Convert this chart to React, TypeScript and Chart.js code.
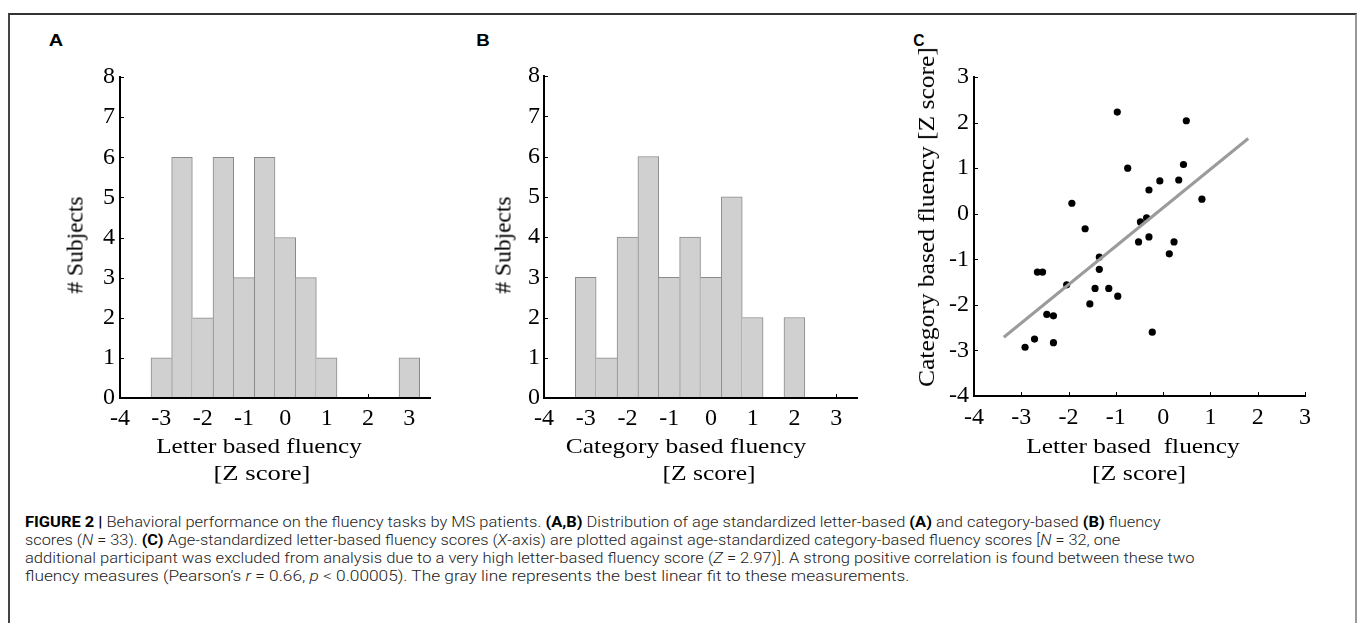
import React, { useEffect, useLayoutEffect, useRef } from "react";
import { Chart, registerables } from "chart.js";

Chart.register(...registerables);

// ---------------- data ----------------
const letterBinCenters = [-3, -2.5, -2, -1.5, -1, -0.5, 0, 0.5, 1, 1.5, 2, 2.5, 3];
const letterCounts = [1, 6, 2, 6, 3, 6, 4, 3, 1, 0, 0, 0, 1];
const categoryBinCenters = [-3, -2.5, -2, -1.5, -1, -0.5, 0, 0.5, 1, 1.5, 2];
const categoryCounts = [3, 1, 4, 6, 3, 4, 3, 5, 2, 0, 2];
const histXTicks = [-4, -3, -2, -1, 0, 1, 2, 3];
const histYTicks = [0, 1, 2, 3, 4, 5, 6, 7, 8];
const scatterXTicks = [-4, -3, -2, -1, 0, 1, 2, 3];
const scatterYTicks = [-4, -3, -2, -1, 0, 1, 2, 3];
const letterZ = [
  -0.97, 0.49, -0.75, 0.43, 0.33, -0.07, -0.3, 0.82, -1.93, -1.65, -0.48, -0.35, -0.52, -0.3, 0.23, 0.13,
  -1.35, -1.35, -2.66, -2.55, -2.04, -1.44, -1.15, -0.96, -1.55, -2.46, -2.32, -0.23, -2.72, -2.32, -2.92,
];
const categoryZ = [
  2.23, 2.04, 1.0, 1.08, 0.74, 0.72, 0.52, 0.32, 0.23, -0.33, -0.18, -0.09, -0.62, -0.51, -0.62, -0.88,
  -0.95, -1.22, -1.28, -1.28, -1.56, -1.64, -1.64, -1.81, -1.98, -2.21, -2.24, -2.6, -2.75, -2.83, -2.93,
];
const fitX = [-3.37, 1.8];
const fitY = [-2.71, 1.65];

// ---------------- styles ----------------
const SERIF = "'Liberation Serif', 'Times New Roman', Times, serif";
const SANS = "'Liberation Sans', Arial, Helvetica, sans-serif";
const CAPTION = "Roboto, 'Liberation Sans', Arial, sans-serif";
const TICK_SIZE = 24;

const inwardTicks = {
  id: "inwardTicks",
  beforeDatasetsDraw(chart: any) {
    const { ctx, chartArea, scales } = chart;
    const len = 4;
    ctx.save();
    ctx.strokeStyle = "#000";
    ctx.lineWidth = 1;
    const xs = scales.x;
    const ys = scales.y;
    xs.ticks.forEach((t: any) => {
      const px = Math.round(xs.getPixelForValue(t.value)) + 0.5;
      ctx.beginPath();
      ctx.moveTo(px, chartArea.bottom);
      ctx.lineTo(px, chartArea.bottom - len);
      ctx.stroke();
    });
    ys.ticks.forEach((t: any) => {
      const py = Math.round(ys.getPixelForValue(t.value)) + 0.5;
      ctx.beginPath();
      ctx.moveTo(chartArea.left, py);
      ctx.lineTo(chartArea.left + len, py);
      ctx.stroke();
    });
    ctx.restore();
  },
};

type Layout = { padTop: number; padRight: number; yW: number; xH: number; xPad: number; yPad: number };

function makeAxis(min: number, max: number, ticks: number[], pad: number, fit: number, horizontal: boolean) {
  return {
    type: "linear",
    min,
    max,
    offset: false,
    grid: { display: false, drawTicks: false, offset: false },
    border: { display: true, color: "#000", width: 2, z: 1 },
    ticks: {
      color: "#000",
      padding: pad,
      autoSkip: false,
      maxRotation: 0,
      minRotation: 0,
      font: { family: SERIF, size: TICK_SIZE },
      callback: (v: any) => String(v),
    },
    afterBuildTicks: (s: any) => {
      s.ticks = ticks.map((value) => ({ value }));
    },
    afterFit: (s: any) => {
      if (horizontal) s.height = fit;
      else s.width = fit;
    },
  };
}

function baseOptions(L: Layout) {
  return {
    animation: false,
    responsive: true,
    maintainAspectRatio: false,
    events: [],
    layout: { padding: { left: 0, top: L.padTop, right: L.padRight, bottom: 0 } },
    plugins: { legend: { display: false }, tooltip: { enabled: false } },
  };
}

function histConfig(centers: number[], counts: number[], L: Layout) {
  const last = counts.length - 1;
  return {
    type: "bar",
    data: {
      datasets: [
        {
          data: centers.map((x, i) => ({ x, y: counts[i] })),
          backgroundColor: "#d0d0d0",
          borderColor: "#8a8a8a",
          borderWidth: (c: any) => {
            const i = c.dataIndex;
            return {
              top: 1,
              bottom: 0,
              left: i === 0 || counts[i - 1] <= counts[i] ? 1 : 0,
              right: i === last || counts[i + 1] < counts[i] ? 1 : 0,
            };
          },
          borderSkipped: "start",
          barPercentage: 1,
          categoryPercentage: 1,
        },
      ],
    },
    options: {
      ...baseOptions(L),
      scales: {
        x: makeAxis(-4, 3.5, histXTicks, L.xPad, L.xH, true),
        y: makeAxis(0, 8, histYTicks, L.yPad, L.yW, false),
      },
    },
    plugins: [inwardTicks],
  };
}

function scatterConfig(L: Layout) {
  return {
    type: "scatter",
    data: {
      datasets: [
        {
          type: "line",
          data: fitX.map((x, i) => ({ x, y: fitY[i] })),
          borderColor: "#9b9b9b",
          borderWidth: 3,
          pointRadius: 0,
          fill: false,
          order: 0,
        },
        {
          type: "scatter",
          data: letterZ.map((x, i) => ({ x, y: categoryZ[i] })),
          backgroundColor: "#000",
          borderColor: "#000",
          borderWidth: 0,
          pointRadius: 3.6,
          order: 1,
        },
      ],
    },
    options: {
      ...baseOptions(L),
      scales: {
        x: makeAxis(-4, 3, scatterXTicks, L.xPad, L.xH, true),
        y: makeAxis(-4, 3, scatterYTicks, L.yPad, L.yW, false),
      },
    },
    plugins: [inwardTicks],
  };
}

function ChartBox(props: { left: number; top: number; width: number; height: number; make: () => any }) {
  const ref = useRef<HTMLCanvasElement>(null);
  useEffect(() => {
    const chart = new Chart(ref.current as HTMLCanvasElement, props.make());
    return () => chart.destroy();
  }, []);
  return (
    <div style={{ position: "absolute", left: props.left, top: props.top, width: props.width, height: props.height }}>
      <canvas ref={ref} />
    </div>
  );
}

type TextProps = {
  x: number;
  y: number;
  w: number;
  size: number;
  family: string;
  weight?: number | string;
  rotate?: boolean;
  left?: boolean;
  color?: string;
  children: React.ReactNode;
};

function FitText(p: TextProps) {
  const ref = useRef<HTMLDivElement>(null);
  const base = p.left ? "translateY(-50%)" : `translate(-50%, -50%)${p.rotate ? " rotate(-90deg)" : ""}`;
  useLayoutEffect(() => {
    const el = ref.current;
    if (!el) return;
    const apply = () => {
      const n = el.offsetWidth;
      if (n > 0) el.style.transform = `${base} scaleX(${p.w / n})`;
    };
    apply();
    const fonts: any = (document as any).fonts;
    if (fonts && fonts.ready) fonts.ready.then(apply);
  }, []);
  return (
    <div
      ref={ref}
      style={{
        position: "absolute",
        left: p.x,
        top: p.y,
        whiteSpace: "pre",
        lineHeight: 1,
        fontFamily: p.family,
        fontSize: p.size,
        fontWeight: p.weight ?? 400,
        color: p.color ?? "#000",
        transform: base,
        transformOrigin: p.left ? "0 50%" : "50% 50%",
      }}
    >
      {p.children}
    </div>
  );
}

type Seg = [string, ("b" | "i")?];
const captionLines: Seg[][] = [
  [
    ["FIGURE 2 |", "b"],
    [" Behavioral performance on the fluency tasks by MS patients. "],
    ["(A,B)", "b"],
    [" Distribution of age standardized letter-based "],
    ["(A)", "b"],
    [" and category-based "],
    ["(B)", "b"],
    [" fluency"],
  ],
  [
    ["scores ("],
    ["N", "i"],
    [" = 33). "],
    ["(C)", "b"],
    [" Age-standardized letter-based fluency scores ("],
    ["X", "i"],
    ["-axis) are plotted against age-standardized category-based fluency scores ["],
    ["N", "i"],
    [" = 32, one"],
  ],
  [
    ["additional participant was excluded from analysis due to a very high letter-based fluency score ("],
    ["Z", "i"],
    [" = 2.97)]. A strong positive correlation is found between these two"],
  ],
  [
    ["fluency measures (Pearson\u2019s "],
    ["r", "i"],
    [" = 0.66, "],
    ["p", "i"],
    [" < 0.00005). The gray line represents the best linear fit to these measurements."],
  ],
];
const captionWidths = [1135.7, 1095.7, 1170, 885];
const captionCenters = [522, 540, 558, 576];

function renderSegs(segs: Seg[]) {
  return segs.map((s, i) =>
    s[1] === "b" ? (
      <span key={i} style={{ fontWeight: 700, color: "#000" }}>
        {s[0]}
      </span>
    ) : s[1] === "i" ? (
      <span key={i} style={{ fontStyle: "italic" }}>
        {s[0]}
      </span>
    ) : (
      <span key={i}>{s[0]}</span>
    )
  );
}

const layoutA: Layout = { padTop: 20, padRight: 20, yW: 65, xH: 102, xPad: 6, yPad: 5 };
const layoutB: Layout = { padTop: 20, padRight: 18, yW: 64, xH: 102, xPad: 6, yPad: 4 };
const layoutC: Layout = { padTop: 20, padRight: 20, yW: 69, xH: 104, xPad: 7, yPad: 5 };

export default function App() {
  return (
    <div
      style={{
        position: "fixed",
        left: 0,
        top: 0,
        width: 1357,
        height: 623,
        overflow: "hidden",
        background: "#fff",
      }}
    >
      <div
        style={{
          position: "absolute",
          left: 8,
          top: 13,
          width: 1345,
          height: 700,
          borderTop: "2px solid #333",
          borderLeft: "2px solid #444",
          borderRight: "2px solid #999",
        }}
      />
      <ChartBox left={55} top={57} width={395} height={443} make={() => histConfig(letterBinCenters, letterCounts, layoutA)} />
      <ChartBox left={480} top={56} width={395} height={444} make={() => histConfig(categoryBinCenters, categoryCounts, layoutB)} />
      <ChartBox left={905} top={57} width={420} height={443} make={() => scatterConfig(layoutC)} />

      {/* panel letters */}
      <FitText x={55.5} y={40.8} w={15} size={16} family={SANS} weight={700}>A</FitText>
      <FitText x={482.5} y={40.8} w={14} size={16} family={SANS} weight={700}>B</FitText>
      <FitText x={918.7} y={40} w={11} size={17} family={SANS} weight={700}>C</FitText>

      {/* panel A titles */}
      <FitText x={75} y={245} w={97} size={23} family={SERIF} rotate>{"# Subjects"}</FitText>
      <FitText x={258.8} y={446} w={206} size={22} family={SERIF}>Letter based fluency</FitText>
      <FitText x={262} y={473.3} w={97} size={22} family={SERIF}>[Z score]</FitText>

      {/* panel B titles */}
      <FitText x={503} y={245} w={97} size={23} family={SERIF} rotate>{"# Subjects"}</FitText>
      <FitText x={686.3} y={446} w={240.7} size={22} family={SERIF}>Category based fluency</FitText>
      <FitText x={708.8} y={473.3} w={93} size={22} family={SERIF}>[Z score]</FitText>

      {/* panel C titles */}
      <FitText x={926} y={216.7} w={340} size={24} family={SERIF} rotate>Category based fluency [Z score]</FitText>
      <FitText x={1133.3} y={446} w={213.3} size={22} family={SERIF}>{"Letter based  fluency"}</FitText>
      <FitText x={1138.8} y={473.3} w={94} size={22} family={SERIF}>[Z score]</FitText>

      {/* caption */}
      {captionLines.map((segs, i) => (
        <FitText key={i} x={25} y={captionCenters[i]} w={captionWidths[i]} size={14} family={CAPTION} weight={300} color="#222" left>
          {renderSegs(segs)}
        </FitText>
      ))}
    </div>
  );
}
